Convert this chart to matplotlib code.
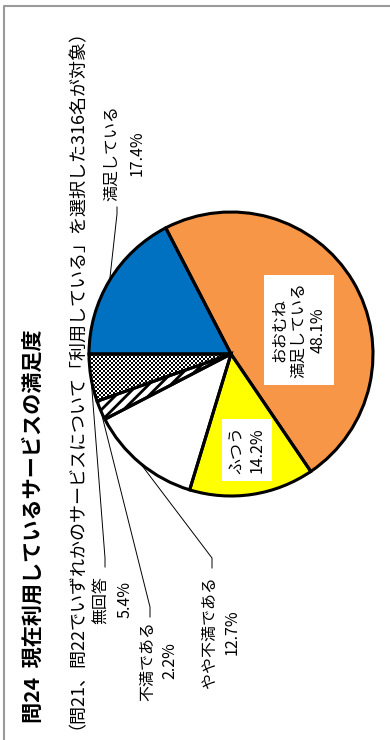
import numpy as np
import matplotlib.pyplot as plt

plt.rcParams['font.family'] = ['Noto Sans CJK JP', 'DejaVu Sans']
plt.rcParams['hatch.linewidth'] = 2.0

# 現在利用しているサービスの満足度 (n=316)
labels = ['満足している', 'おおむね\n満足している', 'ふつう', 'やや不満である', '不満である', '無回答']
shares = [17.4, 48.1, 14.2, 12.7, 2.2, 5.4]
colors = ['#0070C0', '#F79646', '#FFFF00', 'white', 'white', 'white']

title = '問24  現在利用しているサービスの満足度'
subtitle = '（問21、問22でいずれかのサービスについて「利用している」を選択した316名が対象）'

W, H = 390, 740
cx, cy, r = 231, H - 354, 142

fig = plt.figure(figsize=(W / 100, H / 100), dpi=100)
ax = fig.add_axes([0, 0, 1, 1])

wedges, _ = ax.pie(shares, colors=colors, startangle=180, counterclock=False,
                   center=(cx, cy), radius=r,
                   wedgeprops=dict(edgecolor='none'))
wedges[4].set_hatch('///')
wedges[4].set_edgecolor('black')
wedges[4].set_linewidth(0)

# checker pattern for 無回答
n = 150
checker = np.add.outer(np.arange(n), np.arange(n)) % 2
img = ax.imshow(checker, cmap='gray', extent=(cx - r, cx - r + 2 * n, cy - r, cy - r + 2 * n),
                interpolation='nearest', zorder=1.5)
img.set_clip_path(wedges[5])

# outlines on top
ax.pie(shares, startangle=180, counterclock=False, center=(cx, cy), radius=r,
       wedgeprops=dict(fill=False, edgecolor='black', linewidth=2.2, zorder=3))

ax.set_xlim(0, W)
ax.set_ylim(0, H)
ax.set_aspect('equal')
ax.axis('off')

# frame
ax.plot([4, 4, W], [0, H - 6, H - 6], color='#9a9a9a', lw=1.5, clip_on=False)

ax.text(33, H - 723, title, rotation=90, ha='center', va='bottom',
        fontsize=15.2, fontweight='bold')
ax.text(68, H - 729, subtitle, rotation=90, ha='center', va='bottom', fontsize=13)

# labels inside the pie
ax.text(299, H - 330, labels[1] + '\n' + f'{shares[1]}%', rotation=90,
        ha='center', va='center', fontsize=11.5, linespacing=1.2, multialignment='center',
        bbox=dict(facecolor='white', edgecolor='none', pad=5))
ax.text(247, H - 450, labels[2] + '\n' + f'{shares[2]}%', rotation=90,
        ha='center', va='center', fontsize=11.5, linespacing=1.2, multialignment='center',
        bbox=dict(facecolor='white', edgecolor='none', pad=5))

# outside labels: (wedge index, name x, pct x, center y, leader bend, leader end)
outside = [
    (0, 112, 137, 153, (117, 214), (117, 207)),
    (5, 102, 125, 600, (105, 558), (105, 567)),
    (4, 148, 170, 661, (150, 607), (150, 617)),
    (3, 210, 232, 632, (212, 558), (212, 568)),
]
for i, xn, xp, yc, p1, p2 in outside:
    w = wedges[i]
    mid = np.deg2rad((w.theta1 + w.theta2) / 2)
    ex, ey = cx + r * np.cos(mid), cy + r * np.sin(mid)
    ax.plot([ex, p1[0], p2[0]], [ey, H - p1[1], H - p2[1]], color='black', lw=0.7, zorder=4)
    ax.text(xn, H - yc, labels[i], rotation=90, ha='center', va='center', fontsize=11.5)
    ax.text(xp, H - yc, f'{shares[i]}%', rotation=90, ha='center', va='center', fontsize=11.5)

fig.savefig('out.png', dpi=100)
